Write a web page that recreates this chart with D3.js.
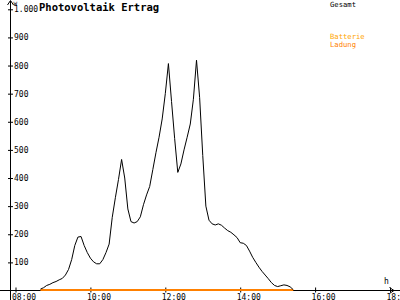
<!DOCTYPE html>
<html><head><meta charset="utf-8">
<script src="https://cdn.jsdelivr.net/npm/d3@7"></script>
<style>
html,body{margin:0;padding:0;background:#fff;overflow:hidden}
svg{display:block}
text{font-family:"DejaVu Sans Mono",monospace}
</style></head><body>
<svg id="c" width="400" height="300"></svg>
<script>
const title = "Photovoltaik Ertrag";
const yUnit = "W";
const xUnit = "h";
const legendLabels = ["Gesamt", "Batterie", "Ladung"];
const yTicks = [100,200,300,400,500,600,700,800,900,1000];
const xTickLabels = ["08:00","10:00","12:00","14:00","16:00","18:00"];
const times = ["08:40","08:45","08:50","08:55","09:00","09:05","09:10","09:15","09:20","09:25","09:30","09:35","09:40","09:45","09:50","09:55",
"10:00","10:05","10:10","10:15","10:20","10:25","10:30","10:35","10:40","10:45","10:50","10:55","11:00","11:05","11:10","11:15","11:20","11:25","11:30","11:35","11:40","11:45","11:50","11:55",
"12:00","12:05","12:10","12:15","12:20","12:25","12:30","12:35","12:40","12:45","12:50","12:55","13:00","13:05","13:10","13:15","13:20","13:25","13:30","13:35","13:40","13:45","13:50","13:55",
"14:00","14:05","14:10","14:15","14:20","14:25","14:30","14:35","14:40","14:45","14:50","14:55","15:00","15:05","15:10","15:15","15:20","15:25"];
const gesamt = [5,10,18,22,28,32,38,43,55,75,110,160,190,192,160,135,
115,102,95,95,110,135,165,260,330,395,466,400,290,245,240,245,262,305,340,370,430,490,545,610,
700,807,672,540,420,450,500,545,592,680,819,686,480,300,250,237,233,237,232,222,213,207,198,188,
170,168,160,140,118,100,83,68,55,42,28,18,14,17,20,18,13,3];
const ladungStart = "08:40", ladungEnd = "15:25";
const ladung = [0, 0];

const toMin = s => { const [h,m] = s.split(":").map(Number); return h*60+m; };
const svg = d3.select("#c");
const x = d3.scaleLinear().domain([480,1080]).range([15.5,390]);
const y = d3.scaleLinear().domain([0,1000]).range([290.5,9.3]);

// y axis ticks + labels
const ya = svg.append("g").attr("transform","translate(8,0)")
  .call(d3.axisRight(y).tickValues(yTicks).tickSize(5).tickPadding(1)
    .tickFormat(d => d===1000 ? "1.000" : String(d)));
ya.select(".domain").remove();
ya.selectAll("line").attr("stroke","#000");
ya.selectAll("text").attr("font-size","8px").attr("fill","#000");

// x axis ticks + labels
const xa = svg.append("g").attr("transform","translate(0,287.5)")
  .call(d3.axisBottom(x).tickValues(xTickLabels.map(toMin)).tickSize(5)
    .tickFormat((d,i) => xTickLabels[i]));
xa.select(".domain").remove();
xa.selectAll("line").attr("stroke","#000");
xa.selectAll("text").attr("font-size","8px").attr("fill","#000")
  .attr("text-anchor","start").attr("x",-4).attr("dy",null).attr("y",12);

// axis lines
svg.append("line").attr("x1",0).attr("x2",400).attr("y1",290.5).attr("y2",290.5).attr("stroke","#000");
svg.append("line").attr("x1",10.5).attr("x2",10.5).attr("y1",1).attr("y2",300).attr("stroke","#000");
svg.append("path").attr("d","M10.5,0.5 L7.5,5 M10.5,0.5 L13.5,5").attr("stroke","#000").attr("fill","none");
svg.append("path").attr("d","M394,290.5 L389.5,287.5 M394,290.5 L389.5,293.5").attr("stroke","#000").attr("fill","none");

svg.append("text").attr("x",13.5).attr("y",5.5).attr("font-size","6px").text(yUnit);
svg.append("text").attr("x",384).attr("y",284).attr("font-size","8px").text(xUnit);

// title
svg.append("text").attr("x",39).attr("y",10.5).attr("font-size","10.5px").attr("font-weight","bold").text(title);

// legend
const legColors = ["#000","#ffa500","#ff8000"];
const legY = [7,38.5,46.5];
legendLabels.forEach((t,i)=>svg.append("text").attr("x",330).attr("y",legY[i]).attr("font-size","7.2px").attr("fill",legColors[i]).text(t));

// ladung line
svg.append("path").datum([ladungStart,ladungEnd].map((t,i)=>({t:toMin(t),v:ladung[i]})))
  .attr("d", d3.line().x(d=>x(d.t)).y(d=>y(d.v)-0.5))
  .attr("stroke","#ff8000").attr("stroke-width",2).attr("fill","none");

// gesamt line
const data = times.map((t,i)=>({t:toMin(t), v:gesamt[i]}));
svg.append("path").datum(data)
  .attr("d", d3.line().x(d=>x(d.t)).y(d=>y(d.v)))
  .attr("stroke","#000").attr("stroke-width",1).attr("fill","none");
</script></body></html>
